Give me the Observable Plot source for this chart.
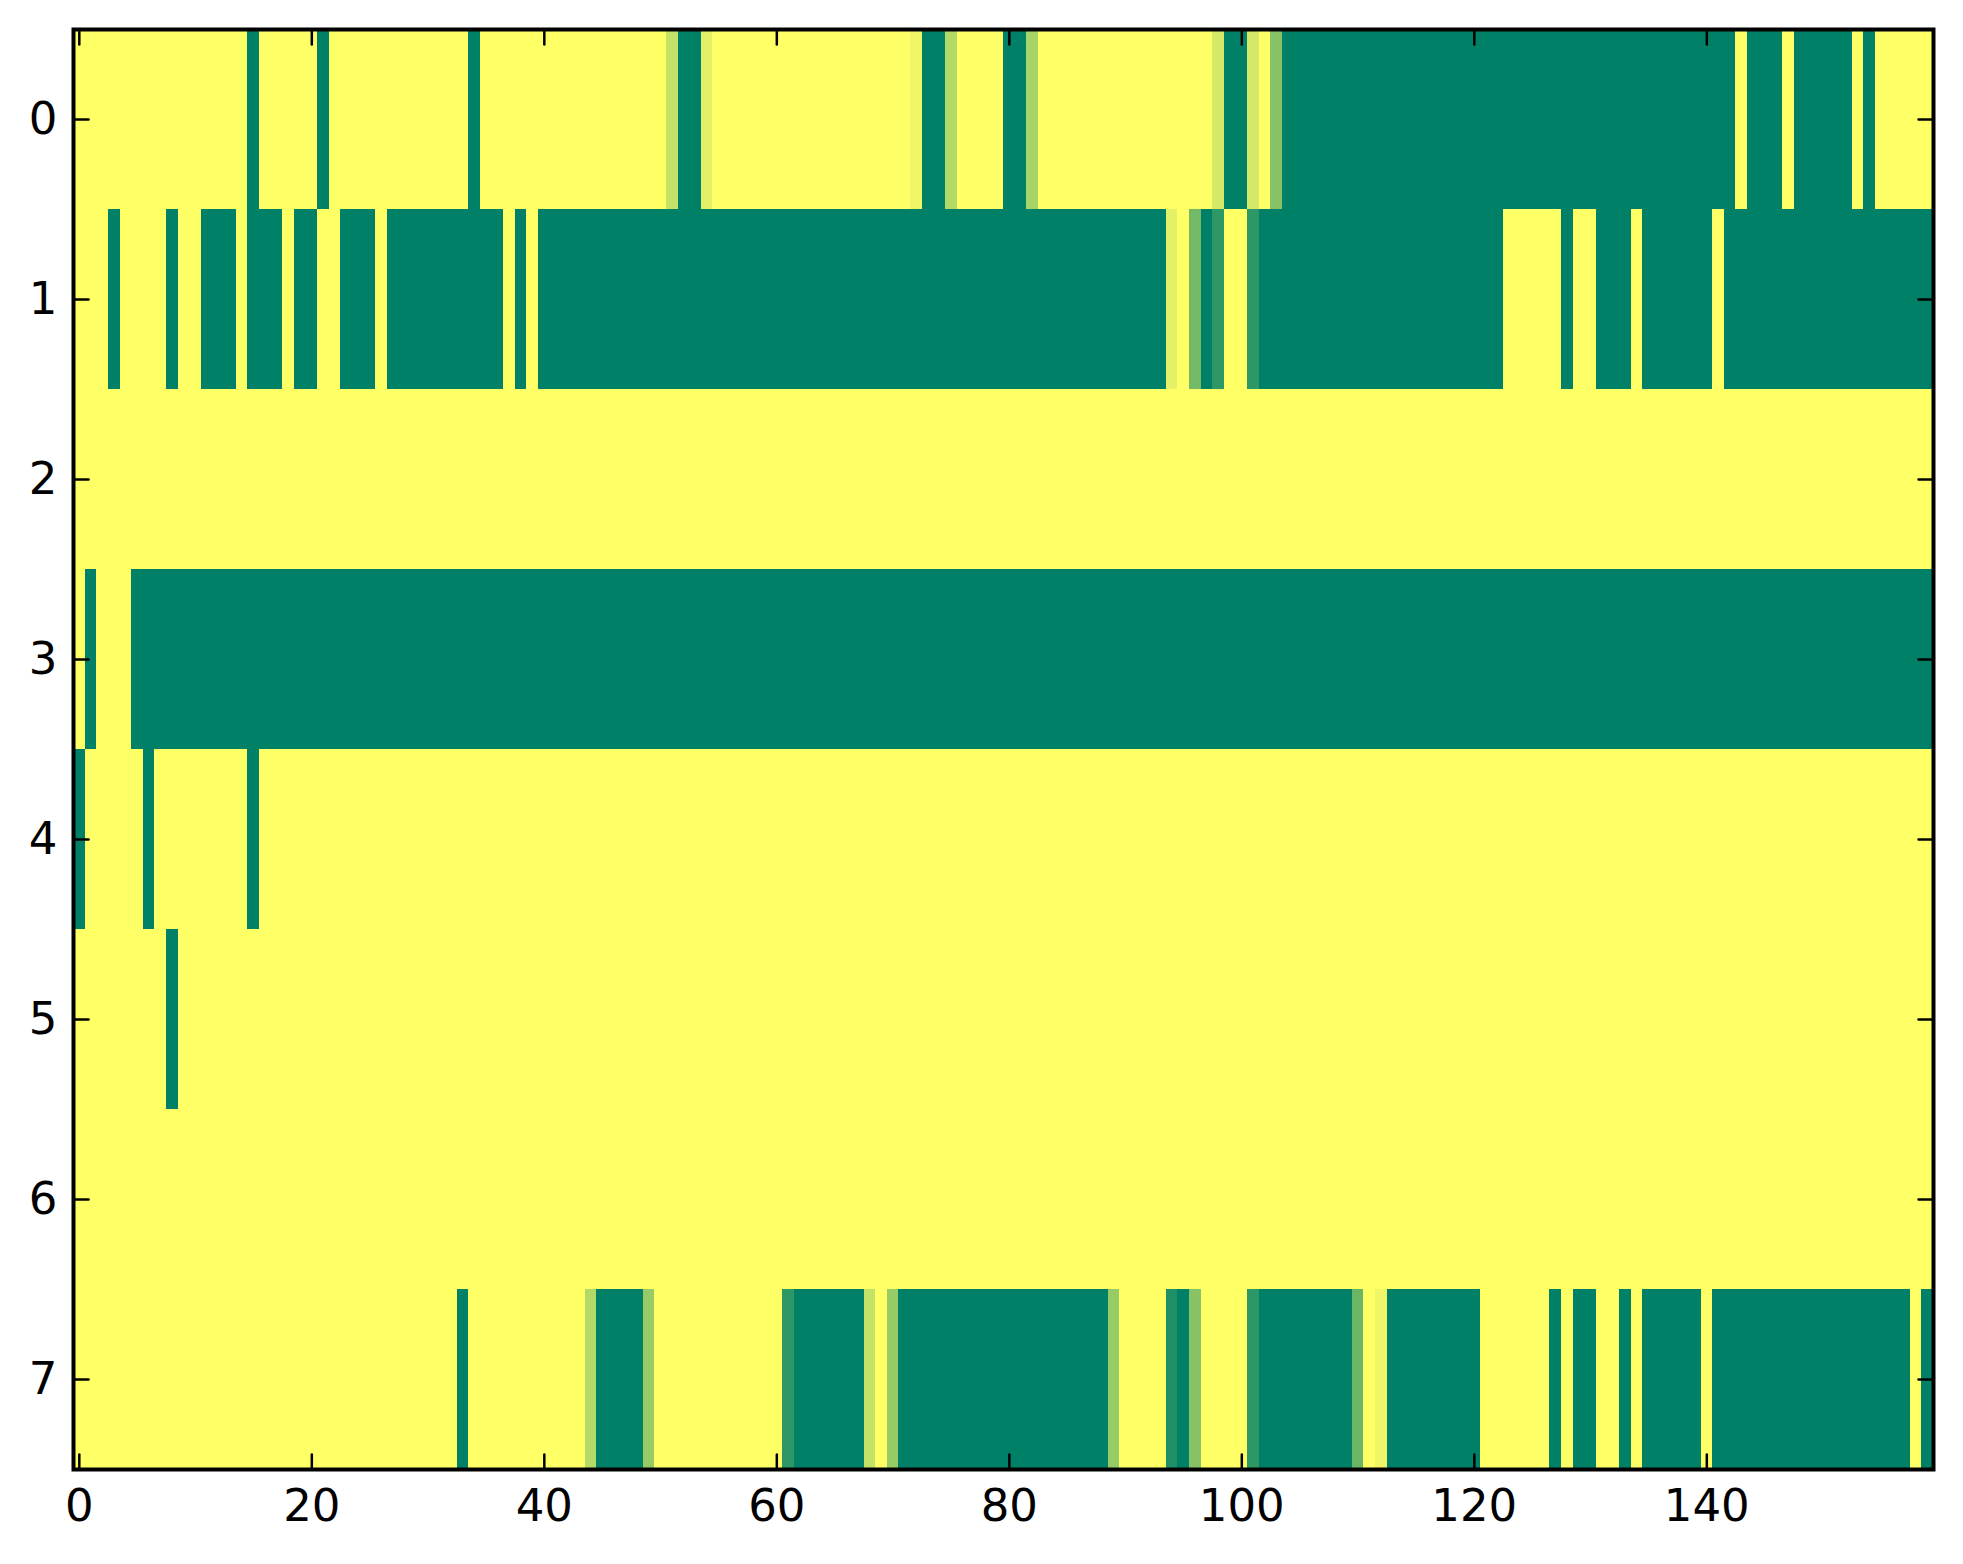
<!DOCTYPE html>
<html><head><meta charset="utf-8">
<script src="https://cdn.jsdelivr.net/npm/d3@7"></script>
<script src="https://cdn.jsdelivr.net/npm/@observablehq/plot@0.6"></script>
<style>body{margin:0;background:#fff}</style>
</head><body><div id="chart"></div>
<script>
const rowLabels = [0,1,2,3,4,5,6,7];
const xTicks = [0,20,40,60,80,100,120,140];

const row0 = [
1,1,1,1,1,1,1,1,1,1, 1,1,1,1,1,0,1,1,1,1,
1,0,1,1,1,1,1,1,1,1, 1,1,1,1,0,1,1,1,1,1,
1,1,1,1,1,1,1,1,1,1, 1,.77,0,0,.89,1,1,1,1,1,
1,1,1,1,1,1,1,1,1,1, 1,1,.94,0,0,.70,1,1,1,1,
0,0,.66,1,1,1,1,1,1,1, 1,1,1,1,1,1,1,1,.83,0,
0,.83,1,.53,0,0,0,0,0,0, 0,0,0,0,0,0,0,0,0,0,
0,0,0,0,0,0,0,0,0,0, 0,0,0,0,0,0,0,0,0,0,
0,0,0,1,0,0,0,1,0,0, 0,0,0,1,0,1,1,1,1,1];
const row1 = [
1,1,1,0,1,1,1,1,0,1, 1,0,0,0,1,0,0,0,1,0,
0,1,1,0,0,0,1,0,0,0, 0,0,0,0,0,0,0,1,0,1,
0,0,0,0,0,0,0,0,0,0, 0,0,0,0,0,0,0,0,0,0,
0,0,0,0,0,0,0,0,0,0, 0,0,0,0,0,0,0,0,0,0,
0,0,0,0,0,0,0,0,0,0, 0,0,0,0,.89,1,.45,0,.18,1,
1,.18,0,0,0,0,0,0,0,0, 0,0,0,0,0,0,0,0,0,0,
0,0,0,1,1,1,1,1,0,1, 1,0,0,0,1,0,0,0,0,0,
0,1,0,0,0,0,0,0,0,0, 0,0,0,0,0,0,0,0,0,0];
const row2 = [
1,1,1,1,1,1,1,1,1,1, 1,1,1,1,1,1,1,1,1,1,
1,1,1,1,1,1,1,1,1,1, 1,1,1,1,1,1,1,1,1,1,
1,1,1,1,1,1,1,1,1,1, 1,1,1,1,1,1,1,1,1,1,
1,1,1,1,1,1,1,1,1,1, 1,1,1,1,1,1,1,1,1,1,
1,1,1,1,1,1,1,1,1,1, 1,1,1,1,1,1,1,1,1,1,
1,1,1,1,1,1,1,1,1,1, 1,1,1,1,1,1,1,1,1,1,
1,1,1,1,1,1,1,1,1,1, 1,1,1,1,1,1,1,1,1,1,
1,1,1,1,1,1,1,1,1,1, 1,1,1,1,1,1,1,1,1,1];
const row3 = [
1,0,1,1,1,0,0,0,0,0, 0,0,0,0,0,0,0,0,0,0,
0,0,0,0,0,0,0,0,0,0, 0,0,0,0,0,0,0,0,0,0,
0,0,0,0,0,0,0,0,0,0, 0,0,0,0,0,0,0,0,0,0,
0,0,0,0,0,0,0,0,0,0, 0,0,0,0,0,0,0,0,0,0,
0,0,0,0,0,0,0,0,0,0, 0,0,0,0,0,0,0,0,0,0,
0,0,0,0,0,0,0,0,0,0, 0,0,0,0,0,0,0,0,0,0,
0,0,0,0,0,0,0,0,0,0, 0,0,0,0,0,0,0,0,0,0,
0,0,0,0,0,0,0,0,0,0, 0,0,0,0,0,0,0,0,0,0];
const row4 = [
0,1,1,1,1,1,0,1,1,1, 1,1,1,1,1,0,1,1,1,1,
1,1,1,1,1,1,1,1,1,1, 1,1,1,1,1,1,1,1,1,1,
1,1,1,1,1,1,1,1,1,1, 1,1,1,1,1,1,1,1,1,1,
1,1,1,1,1,1,1,1,1,1, 1,1,1,1,1,1,1,1,1,1,
1,1,1,1,1,1,1,1,1,1, 1,1,1,1,1,1,1,1,1,1,
1,1,1,1,1,1,1,1,1,1, 1,1,1,1,1,1,1,1,1,1,
1,1,1,1,1,1,1,1,1,1, 1,1,1,1,1,1,1,1,1,1,
1,1,1,1,1,1,1,1,1,1, 1,1,1,1,1,1,1,1,1,1];
const row5 = [
1,1,1,1,1,1,1,1,0,1, 1,1,1,1,1,1,1,1,1,1,
1,1,1,1,1,1,1,1,1,1, 1,1,1,1,1,1,1,1,1,1,
1,1,1,1,1,1,1,1,1,1, 1,1,1,1,1,1,1,1,1,1,
1,1,1,1,1,1,1,1,1,1, 1,1,1,1,1,1,1,1,1,1,
1,1,1,1,1,1,1,1,1,1, 1,1,1,1,1,1,1,1,1,1,
1,1,1,1,1,1,1,1,1,1, 1,1,1,1,1,1,1,1,1,1,
1,1,1,1,1,1,1,1,1,1, 1,1,1,1,1,1,1,1,1,1,
1,1,1,1,1,1,1,1,1,1, 1,1,1,1,1,1,1,1,1,1];
const row6 = [
1,1,1,1,1,1,1,1,1,1, 1,1,1,1,1,1,1,1,1,1,
1,1,1,1,1,1,1,1,1,1, 1,1,1,1,1,1,1,1,1,1,
1,1,1,1,1,1,1,1,1,1, 1,1,1,1,1,1,1,1,1,1,
1,1,1,1,1,1,1,1,1,1, 1,1,1,1,1,1,1,1,1,1,
1,1,1,1,1,1,1,1,1,1, 1,1,1,1,1,1,1,1,1,1,
1,1,1,1,1,1,1,1,1,1, 1,1,1,1,1,1,1,1,1,1,
1,1,1,1,1,1,1,1,1,1, 1,1,1,1,1,1,1,1,1,1,
1,1,1,1,1,1,1,1,1,1, 1,1,1,1,1,1,1,1,1,1];
const row7 = [
1,1,1,1,1,1,1,1,1,1, 1,1,1,1,1,1,1,1,1,1,
1,1,1,1,1,1,1,1,1,1, 1,1,1,0,1,1,1,1,1,1,
1,1,1,1,.70,0,0,0,0,.59, 1,1,1,1,1,1,1,1,1,1,
1,.18,0,0,0,0,0,0,.77,1, .59,0,0,0,0,0,0,0,0,0,
0,0,0,0,0,0,0,0,0,.59, 1,1,1,1,.12,0,.53,1,1,1,
1,.18,0,0,0,0,0,0,0,0, .42,1,.94,0,0,0,0,0,0,0,
0,1,1,1,1,1,1,0,1,0, 0,1,1,0,1,0,0,0,0,0,
1,0,0,0,0,0,0,0,0,0, 0,0,0,0,0,0,0,0,1,0];

const rows = [row0,row1,row2,row3,row4,row5,row6,row7];
const cells = [];
rows.forEach((vals, r) => vals.forEach((v, c) => cells.push({r, c, v})));
const nCols = row0.length;

const tickShape = {draw(ctx, l) { ctx.moveTo(0, 0); ctx.lineTo(0, -l); }};
const tickOpts = {length: 15, anchor: "start", shape: tickShape, stroke: "black", strokeWidth: 2.5};
const intFmt = d => String(d);

const chart = Plot.plot({
  width: 1963,
  height: 1564,
  marginLeft: 73,
  marginRight: 30,
  marginTop: 29,
  marginBottom: 95,
  style: {fontFamily: "'DejaVu Sans', sans-serif", fontSize: "45px", color: "black", background: "white"},
  x: {type: "linear", domain: [-0.5, nCols - 0.5]},
  y: {type: "linear", domain: [-0.5, rows.length - 0.5], reverse: true},
  color: {type: "linear", domain: [0, 1], range: ["#008066", "#ffff66"], interpolate: "rgb"},
  marks: [
    Plot.rect(cells, {
      x1: d => d.c - 0.5, x2: d => d.c + 0.5,
      y1: d => d.r - 0.5, y2: d => d.r + 0.5,
      fill: d => d.v, shapeRendering: "crispEdges"
    }),
    Plot.vector(xTicks, {x: d => d, y: () => rows.length - 0.5, rotate: 0, ...tickOpts}),
    Plot.vector(xTicks, {x: d => d, y: () => -0.5, rotate: 180, ...tickOpts}),
    Plot.vector(rowLabels, {x: () => -0.5, y: d => d, rotate: 90, ...tickOpts}),
    Plot.vector(rowLabels, {x: () => nCols - 0.5, y: d => d, rotate: -90, ...tickOpts}),
    Plot.axisX(xTicks, {anchor: "bottom", tickSize: 0, tickPadding: 20, fontSize: 45, label: null, tickFormat: intFmt}),
    Plot.axisY(rowLabels, {anchor: "left", tickSize: 0, tickPadding: 16, fontSize: 45, label: null, tickFormat: intFmt}),
    Plot.frame({stroke: "black", strokeWidth: 4})
  ]
});
document.getElementById("chart").appendChild(chart);
</script>
</body></html>
